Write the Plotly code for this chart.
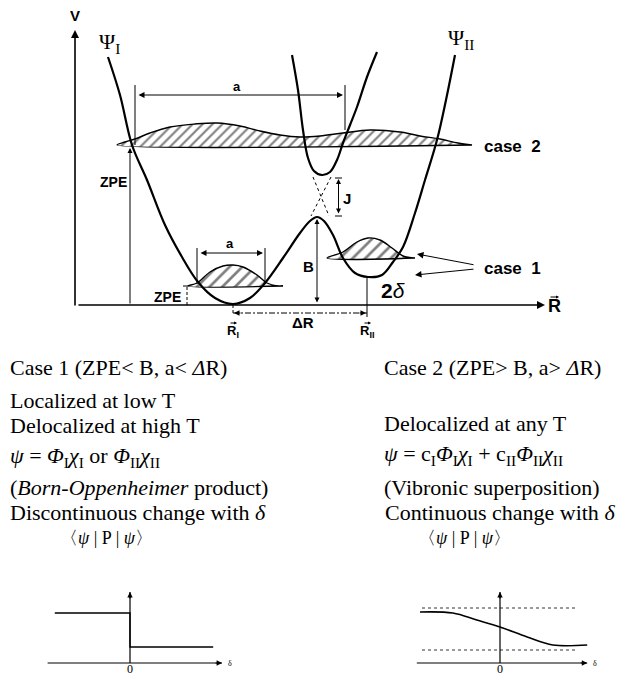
import plotly.graph_objects as go

# ---------------- potential energy diagram (R, V in diagram units) ----------------
lower_R = [33, 45, 57, 72, 90, 107, 123, 140, 158, 175, 190, 208, 225, 235, 242,
           249, 258, 268, 280, 293, 307, 318, 328, 340, 350, 362, 371, 380]
lower_V = [248, 210, 160, 125, 80, 48, 23, 7, 1, 7, 22, 47, 72, 84, 88,
           84, 70, 47, 32, 28, 30, 43, 58, 92, 125, 165, 205, 250]

upper_R = [217, 223, 228, 233, 239, 247, 255, 262, 268, 275, 282, 292, 302]
upper_V = [250, 215, 175, 147, 134, 130, 133, 145, 162, 180, 198, 228, 253]

# diabatic crossing (dashed X)
cross1_R, cross1_V = [238, 254], [128, 89]
cross2_R, cross2_V = [256, 236], [128, 89]

# case 2: delocalized vibrational density over both wells
case2_R = [42, 50, 60, 75, 95, 120, 142, 165, 185, 205, 225, 245, 268, 295,
           325, 345, 365, 383, 397]
case2_V = [160, 163, 166, 172, 178, 181, 182, 179, 174, 170, 168, 169, 172, 175,
           173, 169, 166, 162, 160]
case2_base = 160

# case 1: localized densities in each well
case1a_R = [113, 122, 135, 148, 158, 168, 182, 192, 202, 208]
case1a_V = [19, 22, 33, 39, 40, 38, 30, 22, 19, 19]
case1a_base = 19
case1b_R = [252, 268, 282, 293, 305, 317, 328, 340]
case1b_V = [47, 53, 63, 67, 65, 57, 49, 47]
case1b_base = 47

R_I, R_II = 158, 292
B_top = 88
J_low, J_high = 89, 127

# ---------------- <psi|P|psi> versus delta ----------------
step_delta = [-0.94, 0, 0, 1.04]
step_P = [1.0, 1.0, 0.32, 0.32]

smooth_delta = [-1.0, -0.59, -0.29, 0.0, 0.34, 0.66, 1.09]
smooth_P = [1.02, 1.0, 0.86, 0.72, 0.52, 0.36, 0.36]
limit_hi, limit_lo = 1.1, 0.26
P_axis_top = 1.42

fig = go.Figure()

BLACK = "black"
SANS = "Liberation Sans, Arial, sans-serif"
SERIF = "Liberation Serif, Times New Roman, serif"


def line(xs, ys, width=1.0, dash="solid", xa="x", ya="y", shape="linear"):
    fig.add_trace(go.Scatter(x=xs, y=ys, mode="lines", xaxis=xa, yaxis=ya,
                             line=dict(color=BLACK, width=width, dash=dash, shape=shape),
                             hoverinfo="skip", showlegend=False))


def band(xs, ys, base, size):
    px = list(xs) + [xs[-1], xs[0]]
    py = list(ys) + [base, base]
    fig.add_trace(go.Scatter(x=px, y=py, mode="lines", fill="toself",
                             fillcolor="rgba(0,0,0,0)",
                             fillpattern=dict(shape="/", fgcolor=BLACK, bgcolor="white",
                                              size=size, solidity=0.3),
                             line=dict(color=BLACK, width=1.4, shape="spline"),
                             hoverinfo="skip", showlegend=False))


def arrow(x0, y0, x1, y1, both=False, width=1.0, xref="x", yref="y", size=1.0):
    fig.add_annotation(x=x1, y=y1, ax=x0, ay=y0, xref=xref, yref=yref,
                       axref=xref, ayref=yref, text="", showarrow=True,
                       arrowhead=2, arrowsize=size, arrowwidth=width,
                       startarrowhead=2, startarrowsize=size,
                       arrowside="end+start" if both else "end",
                       arrowcolor=BLACK)


def label(x, y, text, size=15, font=SANS, xref="x", yref="y", xanchor="center",
          bold=True):
    fig.add_annotation(x=x, y=y, xref=xref, yref=yref, text=f"<b>{text}</b>" if bold else text,
                       showarrow=False, xanchor=xanchor, yanchor="middle",
                       font=dict(family=font, size=size, color=BLACK))


def vector_label(x, y, sub, size, arrow_dy, arrow_half):
    label(x, y, f"R<sub>{sub}</sub>" if sub else "R", size=size)
    arrow(x - arrow_half, y + arrow_dy, x + arrow_half, y + arrow_dy, size=0.6)


# hatched densities
band(case2_R, case2_V, case2_base, 7)
band(case1a_R, case1a_V, case1a_base, 9)
band(case1b_R, case1b_V, case1b_base, 9)

# potential curves
line(lower_R, lower_V, width=2.2, shape="spline")
line(upper_R, upper_V, width=2.2, shape="spline")
line(cross1_R, cross1_V, width=1.0, dash="3px,3px")
line(cross2_R, cross2_V, width=1.0, dash="3px,3px")

# coordinate axes
arrow(0, -2, 0, 275, width=1.6)
arrow(2, 0, 470, 0, width=1.6)
label(0, 290, "V", size=15)
vector_label(479, -1, "", 18, 9, 5)
label(34, 262, "\u03a8<sub>I</sub>", size=22, font=SERIF, bold=False)
label(386, 266, "\u03a8<sub>II</sub>", size=22, font=SERIF, bold=False)

# dimension a (case 2)
line([60, 60], [160, 220])
line([270, 270], [175, 220])
arrow(62, 210, 268, 210, both=True, size=1.2)
label(162, 219, "a", size=13)

# dimension a (case 1)
line([122, 122], [21, 57])
line([190, 190], [21, 57])
arrow(124, 52, 188, 52, both=True, size=1.2)
label(155, 62, "a", size=13)

# ZPE markers
arrow(55, 0, 55, 157)
label(38, 123, "ZPE", size=14)
line([112, 112], [0, 19], width=1.0, dash="3px,2px")
line([108, 113], [19, 19], width=1.0)
label(92, 8, "ZPE", size=14)

# barrier B and tunnel splitting J
arrow(242, 1, 242, 86, both=True)
label(233, 39, "B", size=15)
line([260, 267], [J_low, J_low])
line([260, 267], [J_high, J_high])
arrow(263.5, J_low + 1, 263.5, J_high - 1, both=True)
label(272, 107, "J", size=15)

# well positions and separation
line([R_I, R_I], [0, -10], dash="3px,2px")
line([R_II, R_II], [28, -12])
line([R_I, R_II], [-8, -8], dash="6px,2px,2px,2px")
arrow(R_I + 9, -8, R_I + 1, -8, size=1.1)
arrow(R_II - 9, -8, R_II - 1, -8, size=1.1)
vector_label(R_I, -26, "I", 13, 8, 4)
vector_label(R_II, -26, "II", 13, 8, 4)
label(228, -17, "\u0394R", size=15)
label(318, 15, "2</b><i>\u03b4</i><b>", size=21)

# case labels
label(437, 159, "case  2", size=17)
label(437, 37, "case  1", size=17)
arrow(400, 40, 342, 51, size=1.3)
arrow(400, 36, 340, 30, size=1.3)

# ---------------- explanatory text ----------------
def text(px, py, s, size=22):
    fig.add_annotation(x=px / 620, y=1 - py / 675, xref="paper", yref="paper",
                       text=s, showarrow=False, xanchor="left", yanchor="middle",
                       font=dict(family=SERIF, size=size, color=BLACK))


text(8, 367, "Case 1 (ZPE&lt; B, a&lt; <i>\u0394</i>R)")
text(8, 400, "Localized at low T")
text(8, 425, "Delocalized at high T")
text(8, 457, "<i>\u03c8</i> = <i>\u03a6</i><sub>I</sub><i>\u03c7</i><sub>I</sub> or "
             "<i>\u03a6</i><sub>II</sub><i>\u03c7</i><sub>II</sub>")
text(8, 487, "(<i>Born-Oppenheimer</i> product)")
text(8, 512, "Discontinuous change with <i>\u03b4</i>")

text(382, 367, "Case 2 (ZPE&gt; B, a&gt; <i>\u0394</i>R)")
text(382, 423, "Delocalized at any T")
text(382, 455, "<i>\u03c8</i> = c<sub>I</sub><i>\u03a6</i><sub>I</sub><i>\u03c7</i><sub>I</sub> + "
               "c<sub>II</sub><i>\u03a6</i><sub>II</sub><i>\u03c7</i><sub>II</sub>")
text(382, 487, "(Vibronic superposition)")
text(383, 512, "Continuous change with <i>\u03b4</i>")

# ---------------- small plots ----------------
bra = "\u3008<i>\u03c8</i> | P | <i>\u03c8</i>\u3009"
label(-0.3, 2.5, bra, size=18, font=SERIF, xref="x2", yref="y2", bold=False)
label(-0.45, 2.5, bra, size=18, font=SERIF, xref="x3", yref="y2", bold=False)

for xa in ("x2", "x3"):
    lo = -1.03 if xa == "x2" else -1.04
    hi = 1.15 if xa == "x2" else 1.09
    fig.add_shape(type="line", xref=xa, yref="y2", x0=lo, x1=hi, y0=0, y1=0,
                  line=dict(color=BLACK, width=1.2))
    fig.add_shape(type="line", xref=xa, yref="y2", x0=0, x1=0, y0=0, y1=P_axis_top,
                  line=dict(color=BLACK, width=1.2))
    fig.add_annotation(x=hi, y=0, xref=xa, yref="y2", ax=-8, ay=0, text="",
                       showarrow=True, arrowhead=2, arrowsize=0.9, arrowwidth=1.2,
                       arrowcolor=BLACK)
    fig.add_annotation(x=0, y=P_axis_top, xref=xa, yref="y2", ax=0, ay=8, text="",
                       showarrow=True, arrowhead=2, arrowsize=0.9, arrowwidth=1.2,
                       arrowcolor=BLACK)
    label(0, -0.11, "0", size=12, font=SERIF, xref=xa, yref="y2", bold=False)
    label(hi + 0.1, 0, "\u03b4", size=8, font=SERIF, xref=xa, yref="y2", bold=False)

# left: discontinuous
line(step_delta, step_P, width=1.4, xa="x2", ya="y2")

# right: continuous
line([-0.975, 0.96], [limit_hi, limit_hi], width=0.8, dash="3px,3px", xa="x3", ya="y2")
line([-0.975, 0.96], [limit_lo, limit_lo], width=0.8, dash="3px,3px", xa="x3", ya="y2")
line(smooth_delta, smooth_P, width=1.6, xa="x3", ya="y2", shape="spline")

hidden = dict(visible=False, fixedrange=True, showgrid=False, zeroline=False)
fig.update_layout(
    width=620, height=675,
    margin=dict(l=0, r=0, t=0, b=0),
    paper_bgcolor="white", plot_bgcolor="white",
    showlegend=False,
    xaxis=dict(range=[-75, 545], domain=[0, 1], **hidden),
    yaxis=dict(range=[-370, 305], domain=[0, 1], **hidden),
    xaxis2=dict(range=[-130 / 80, 490 / 80], overlaying="x", anchor="y2", **hidden),
    yaxis2=dict(range=[-12 / 50, 663 / 50], overlaying="y", anchor="x2", **hidden),
    xaxis3=dict(range=[-500 / 80, 120 / 80], overlaying="x", anchor="y2", **hidden),
)

fig.write_html("out.html")
